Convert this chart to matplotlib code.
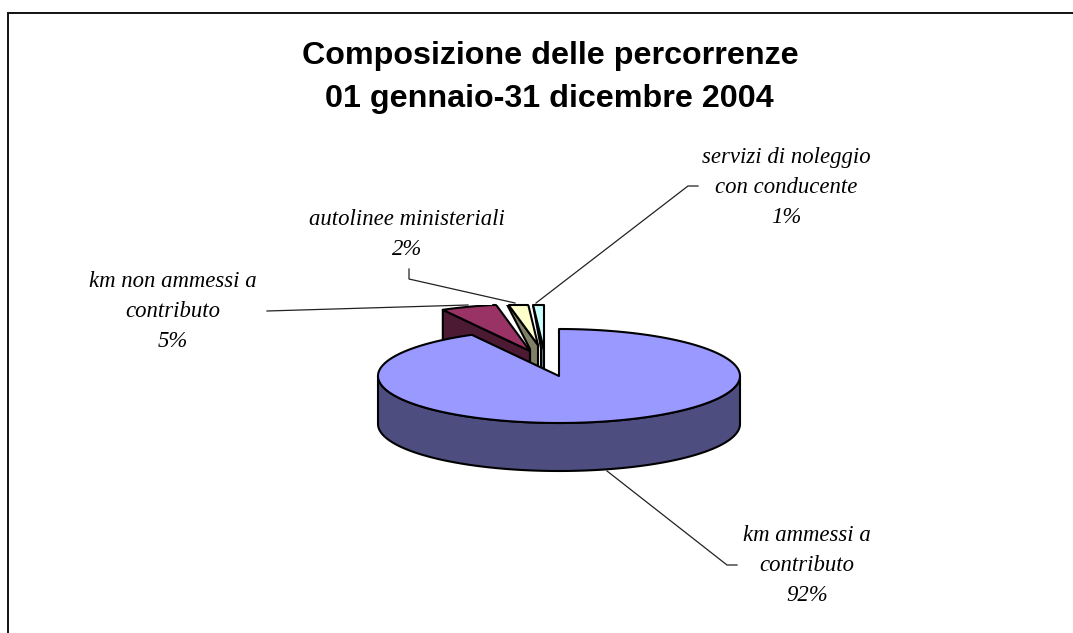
import numpy as np
import matplotlib
matplotlib.use("Agg")
import matplotlib.pyplot as plt
from matplotlib.patches import Polygon, Rectangle

title_lines = ["Composizione delle percorrenze", "01 gennaio-31 dicembre 2004"]
categories = [["km ammessi a", "contributo"], ["km non ammessi a", "contributo"], ["autolinee ministeriali"], ["servizi di noleggio", "con conducente"]]
shares = [92, 5, 2, 1]

W, H = 1073, 633
fig = plt.figure(figsize=(W / 100, H / 100), dpi=100, facecolor="white")
ax = fig.add_axes([0, 0, 1, 1])
ax.set_xlim(0, W)
ax.set_ylim(H, 0)
ax.axis("off")

# chart frame
ax.plot([W, 8, 8], [13, 13, H], color="#111111", lw=1.4, solid_joinstyle="miter", zorder=1)

# pie geometry (pixels)
cx, cy, rx, ry, depth = 559, 376, 181, 47, 48
top_faces = ["#9999FF", "#993366", "#FFFFCC", "#CCFFFF"]
side_faces = ["#4D4D80", "#4D1A33", "#808066", "#668080"]
offsets = [(0, 0), (-29, -25), (-21, -31), (-15, -26)]
feet = [None, None, (-8, 4), (-3, -2)]
clip_top = 305
edge = dict(edgecolor="black", linewidth=1.5, joinstyle="round")


def arc(a0, a1, n=120):
    t = np.radians(np.linspace(a0, a1, n))
    return np.column_stack([rx * np.sin(t), -ry * np.cos(t)])


ends = np.cumsum(shares) / np.sum(shares) * 360
starts = np.r_[0, ends[:-1]]

clip_rect = Rectangle((0, clip_top), W, H, transform=ax.transData)

# exploded small slices, drawn from the back
for i in [3, 2, 1]:
    a0, a1 = starts[i], ends[i]
    ox, oy = offsets[i]
    apex = np.array([cx + ox, cy + oy], float)
    pts = apex + arc(a0, a1, 30)
    outer = pts[0]
    if feet[i] is None:
        wall = np.vstack([outer, apex, apex + [0, depth], outer + [0, depth]])
    else:
        f = apex + feet[i]
        wall = np.vstack([outer, apex, apex + [0, depth], f + [0, depth], f])
    p = ax.add_patch(Polygon(wall, closed=True, facecolor=side_faces[i], zorder=3 + (3 - i) * 2, **edge))
    p.set_clip_path(clip_rect)
    q = ax.add_patch(Polygon(np.vstack([apex, pts]), closed=True, facecolor=top_faces[i], zorder=4 + (3 - i) * 2, **edge))
    q.set_clip_path(clip_rect)
    # flat cut where the slice meets the plot-area limit
    poly = np.vstack([apex, pts, apex])
    xcut = []
    for (x0, y0), (x1, y1) in zip(poly[:-1], poly[1:]):
        if (y0 - clip_top) * (y1 - clip_top) <= 0 and y0 != y1:
            xcut.append(x0 + (clip_top - y0) / (y1 - y0) * (x1 - x0))
    if len(xcut) >= 2:
        ax.plot([min(xcut), max(xcut)], [clip_top, clip_top], color="black", lw=1.5,
                zorder=4 + (3 - i) * 2 + 0.5, solid_capstyle="round")

# main slice: side band then top
front = arc(90, 270)
band = np.vstack([np.array([cx, cy]) + front, (np.array([cx, cy + depth]) + front)[::-1]])
ax.add_patch(Polygon(band, closed=True, facecolor=side_faces[0], zorder=12, **edge))
main = np.vstack([[cx, cy], np.array([cx, cy]) + arc(starts[0], ends[0], 300)])
ax.add_patch(Polygon(main, closed=True, facecolor=top_faces[0], zorder=13, **edge))

# leader lines
lk = dict(color="#222222", lw=0.9, zorder=2)
ax.plot([737, 727, 607], [565, 565, 471], **lk)
ax.plot([267, 468], [311, 305], **lk)
ax.plot([409, 409, 515], [269, 279, 303], **lk)
ax.plot([698, 688, 536], [186, 186, 303], **lk)

# title
title_font = dict(family="Liberation Sans", fontweight="bold", fontsize=23.2, ha="center", va="baseline", color="black")
ax.text(550, 64, title_lines[0], **title_font)
ax.text(549, 107, title_lines[1], **title_font)

# labels: one text per line, spaced as in the reference
lab = dict(family="Liberation Serif", style="italic", fontsize=16.4, ha="center", va="baseline", color="black")
label_x = [807, 173, 407, 786]
label_y = [541, 287, 225, 163]
line_step = 30
for lines, s, x, y in zip(categories, shares, label_x, label_y):
    for k, line in enumerate(lines + [f"{s}%"]):
        ax.text(x, y + k * line_step, line, **lab)

fig.savefig("out.png", dpi=100, facecolor="white")
